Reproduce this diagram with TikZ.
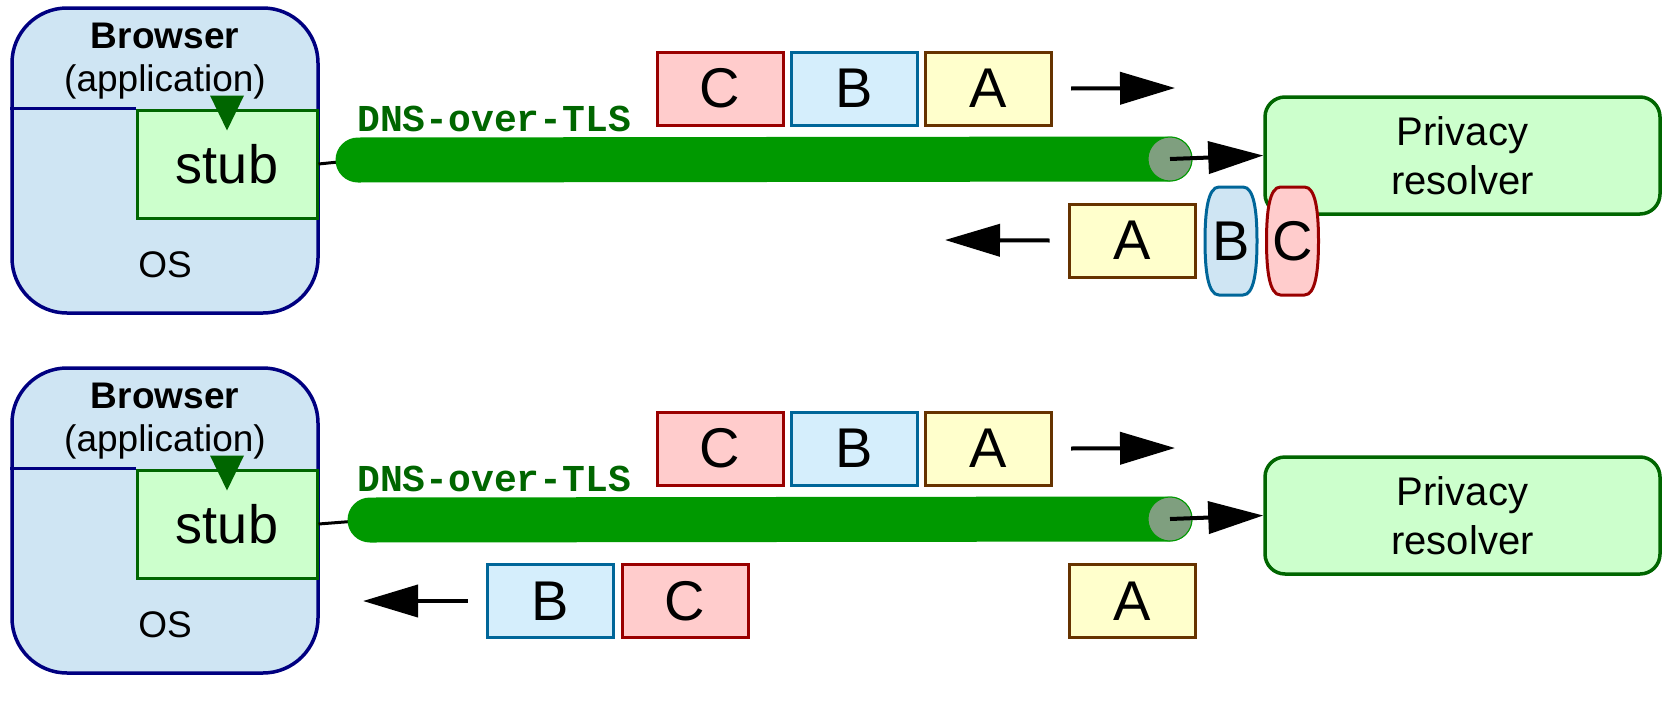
\documentclass[tikz,border=0pt]{standalone}
\usepackage{fontspec}
\setmainfont{Liberation Sans}
\setmonofont{Liberation Mono}
\usetikzlibrary{arrows.meta}

\definecolor{osfill}{HTML}{CFE5F3}
\definecolor{osline}{HTML}{000080}
\definecolor{stubfill}{HTML}{CCFFCC}
\definecolor{stubline}{HTML}{006600}
\definecolor{tls}{HTML}{009900}
\definecolor{tlsend}{HTML}{7F9F7F}
\definecolor{afill}{HTML}{FFFFCC}
\definecolor{aline}{HTML}{663300}
\definecolor{bfill}{HTML}{D5EEFC}
\definecolor{bline}{HTML}{006699}
\definecolor{cfill}{HTML}{FFCCCC}
\definecolor{cline}{HTML}{990000}

\begin{document}
\begin{tikzpicture}[x=1pt, y=-1pt,
  osbox/.style={draw=osline, fill=osfill, line width=3.5pt, rounded corners=55pt,
    minimum width=306pt, minimum height=305pt},
  stubbox/.style={draw=stubline, fill=stubfill, line width=3pt,
    minimum width=180pt, minimum height=108pt, font=\fontsize{54}{60}\selectfont},
  label/.style={font=\fontsize{37}{42}\selectfont, inner sep=0pt},
  resolver/.style={draw=stubline, fill=stubfill, line width=3.5pt, rounded corners=20pt,
    minimum width=395pt, minimum height=117pt, align=center,
    font=\fontsize{40}{49}\selectfont},
  pkt/.style={line width=3pt, minimum width=126pt, minimum height=73pt,
    inner sep=0pt, font=\fontsize{56}{60}\selectfont},
  pa/.style={pkt, draw=aline, fill=afill},
  pb/.style={pkt, draw=bline, fill=bfill},
  pc/.style={pkt, draw=cline, fill=cfill},
  barrel/.pic={
    \path[pic actions] (-12,-54) -- (12,-54) .. controls (23,-54) and (26,-30) .. (26,0)
      .. controls (26,30) and (23,54) .. (12,54) -- (-12,54)
      .. controls (-23,54) and (-26,30) .. (-26,0)
      .. controls (-26,-30) and (-23,-54) .. (-12,-54) -- cycle;},
  tunnel/.style={tls, line width=45pt, line cap=round},
  flow/.style={line width=4pt, -{Triangle[length=55pt, width=32pt]}}]
  \useasboundingbox (0,0) rectangle (1662,715);
  % both panels share the host, the tunnel and the resolver
  \foreach \p/\dy/\tl in {t/0/358, b/360/370} {
    \begin{scope}[yshift=-\dy pt]
      \node[osbox] (os\p) at (165,160.5) {};
      \node[stubbox] (stub\p) at (227,164) {stub};
      \draw[osline, line width=3.5pt] (os\p.west |- stub\p.north) -- (stub\p.north west);
      \node[label, font=\bfseries\fontsize{37}{42}\selectfont, anchor=base] (app\p) at (165,48) {Browser};
      \node[label, anchor=base] (apptype\p) at (165,91) {(application)};
      \node[label] (oslabel\p) at (165,265) {OS};
      \fill[stubline] ([xshift=-17pt, yshift=13pt]stub\p.north) -- ++(34,0) -- ++(-17,35) -- cycle;
      \node[resolver] (res\p) at (1462.5,155.5) {Privacy\\resolver};
      \coordinate (tl\p) at (\tl,160);
      \coordinate (tend\p) at (1170,159);
      \draw[line width=3pt] (stub\p.east) -- (tl\p);
      \draw[tunnel] (tl\p) -- (tend\p);
      \node[circle, fill=tlsend, draw=tls, line width=1pt, minimum size=44pt, inner sep=0pt] (end\p) at (tend\p) {};
      \node[anchor=base west, text=stubline, inner sep=0pt,
        font=\ttfamily\bfseries\fontsize{38}{40}\selectfont] (dot\p) at (357,131) {DNS-over-TLS};
      \draw[flow] (end\p.center) -- (res\p.west);
      % queries on their way out
      \node[pc] (c\p) at (720,88.5) {C};
      \node[pb] (b\p) at (854,88.5) {B};
      \node[pa] (a\p) at (988.5,88.5) {A};
      \coordinate (go\p) at (1175,88);
      \draw[flow] ([xshift=18pt]a\p.east) -- (go\p);
    \end{scope}
  }
  % answers, top: squeezed behind A
  \node[pa] (ra) at (1132,240.5) {A};
  \pic[draw=bline, fill=osfill, line width=3pt] at (1231,241) {barrel};
  \node[pkt, minimum width=40pt] (rb) at (1231,241) {B};
  \pic[draw=cline, fill=cfill, line width=3pt] at (1292.5,241) {barrel};
  \node[pkt, minimum width=40pt] (rc) at (1292.5,241) {C};
  \coordinate (back) at (945,240);
  \draw[flow] ([xshift=-18pt]ra.west) -- (back);
  % answers, bottom: B and C come back first
  \node[pb] (sb) at (550,601) {B};
  \node[pc] (sc) at (685,601) {C};
  \node[pa] (sa) at (1132,601) {A};
  \coordinate (home) at (363,601);
  \draw[flow] ([xshift=-18pt]sb.west) -- (home);
\end{tikzpicture}
\end{document}
